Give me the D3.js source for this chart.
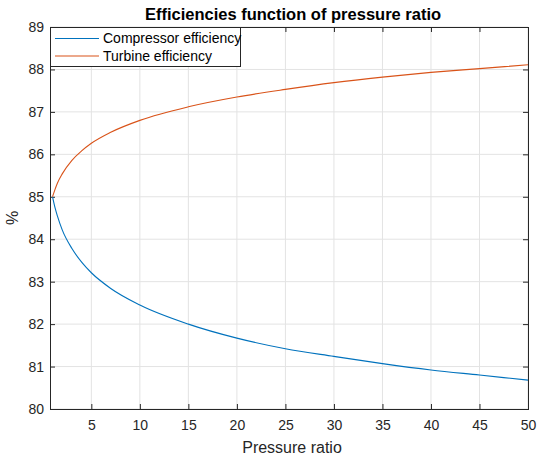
<!DOCTYPE html>
<html>
<head>
<meta charset="utf-8">
<script src="https://cdn.jsdelivr.net/npm/d3@7"></script>
<style>
  html, body { margin: 0; padding: 0; background: #fff; }
  svg { display: block; font-family: "Liberation Sans", Arial, Helvetica, sans-serif; }
</style>
</head>
<body>
<svg id="chart" width="537" height="459"></svg>
<script>
// Pressure ratio samples and the efficiencies (%) at each one
const pressureRatio = [1, 1.25, 1.5, 2, 3, 4, 5, 7, 10, 15, 20, 25, 30, 35, 40, 45, 50];
const compressorEff = [85.00, 84.75, 84.55, 84.22, 83.78, 83.46, 83.21, 82.84, 82.45, 82.00, 81.67, 81.42, 81.24, 81.07, 80.92, 80.80, 80.68];
const turbineEff    = [85.00, 85.17, 85.32, 85.54, 85.86, 86.08, 86.26, 86.52, 86.80, 87.12, 87.35, 87.53, 87.69, 87.82, 87.93, 88.02, 88.11];

const xTicks = [5, 10, 15, 20, 25, 30, 35, 40, 45, 50];
const yTicks = [80, 81, 82, 83, 84, 85, 86, 87, 88, 89];

const seriesNames  = ["Compressor efficiency", "Turbine efficiency"];
const seriesColors = ["#0072BD", "#D95319"];

const svg = d3.select("#chart");
const plot = { left: 50, right: 528, top: 27, bottom: 409 };

const x = d3.scaleLinear().domain([0.74, 50]).range([plot.left, plot.right]);
const y = d3.scaleLinear().domain([80, 89]).range([plot.bottom, plot.top]);

const axisColor = "#262626";

// grid
const grid = svg.append("g");
grid.selectAll("line.gx").data(xTicks).join("line")
  .attr("x1", d => x(d)).attr("x2", d => x(d))
  .attr("y1", plot.top).attr("y2", plot.bottom)
  .attr("stroke", "#e3e3e3").attr("stroke-width", 1);
grid.selectAll("line.gy").data(yTicks).join("line")
  .attr("x1", plot.left).attr("x2", plot.right)
  .attr("y1", d => y(d)).attr("y2", d => y(d))
  .attr("stroke", "#e3e3e3").attr("stroke-width", 1);

// axes (ticks pointing inward, box on all sides)
const tickLen = 5;
const xb = svg.append("g").attr("transform", `translate(0,${plot.bottom})`)
  .call(d3.axisBottom(x).tickValues(xTicks).tickSizeInner(-tickLen).tickSizeOuter(0).tickPadding(11));
const xt = svg.append("g").attr("transform", `translate(0,${plot.top})`)
  .call(d3.axisTop(x).tickValues(xTicks).tickSizeInner(-tickLen).tickSizeOuter(0).tickFormat(""));
const yl = svg.append("g").attr("transform", `translate(${plot.left},0)`)
  .call(d3.axisLeft(y).tickValues(yTicks).tickSizeInner(-tickLen).tickSizeOuter(0).tickPadding(6));
const yr = svg.append("g").attr("transform", `translate(${plot.right},0)`)
  .call(d3.axisRight(y).tickValues(yTicks).tickSizeInner(-tickLen).tickSizeOuter(0).tickFormat(""));

[xb, xt, yl, yr].forEach(g => {
  g.select(".domain").remove();
  g.selectAll(".tick line").attr("stroke", axisColor);
  g.selectAll(".tick text").attr("fill", axisColor).attr("font-size", 14)
    .attr("font-family", "'Liberation Sans', Arial, sans-serif");
});
xb.selectAll(".tick text").attr("dy", "0.71em");

svg.append("rect")
  .attr("x", plot.left + 0.5).attr("y", plot.top + 0.5)
  .attr("width", plot.right - plot.left).attr("height", plot.bottom - plot.top)
  .attr("fill", "none").attr("stroke", axisColor).attr("stroke-width", 1);

// curves
const line = d3.line().curve(d3.curveMonotoneX);
const series = [compressorEff, turbineEff];
series.forEach((vals, i) => {
  svg.append("path")
    .attr("d", line(pressureRatio.map((p, j) => [x(p), y(vals[j])])))
    .attr("fill", "none")
    .attr("stroke", seriesColors[i])
    .attr("stroke-width", 1.1);
});

// title and labels
svg.append("text")
  .attr("x", 293).attr("y", 19.5)
  .attr("text-anchor", "middle")
  .attr("font-size", 16.5).attr("font-weight", "bold").attr("fill", "#000")
  .text("Efficiencies function of pressure ratio");

svg.append("text")
  .attr("x", 292).attr("y", 453)
  .attr("text-anchor", "middle")
  .attr("font-size", 16).attr("fill", axisColor)
  .text("Pressure ratio");

svg.append("text")
  .attr("transform", `translate(18,${(plot.top + plot.bottom) / 2}) rotate(-90)`)
  .attr("text-anchor", "middle")
  .attr("font-size", 16).attr("fill", axisColor)
  .text("%");

// legend
const legend = svg.append("g");
legend.append("rect")
  .attr("x", plot.left + 0.5).attr("y", plot.top + 0.5)
  .attr("width", 190).attr("height", 39)
  .attr("fill", "#fff").attr("stroke", axisColor).attr("stroke-width", 1);
seriesNames.forEach((name, i) => {
  const ly = 38.5 + i * 17.5;
  legend.append("line")
    .attr("x1", 55).attr("x2", 99)
    .attr("y1", ly).attr("y2", ly)
    .attr("stroke", seriesColors[i]).attr("stroke-width", 1.1);
  legend.append("text")
    .attr("x", 103).attr("y", ly).attr("dy", "0.35em")
    .attr("font-size", 14).attr("fill", "#000")
    .text(name);
});
</script>
</body>
</html>
